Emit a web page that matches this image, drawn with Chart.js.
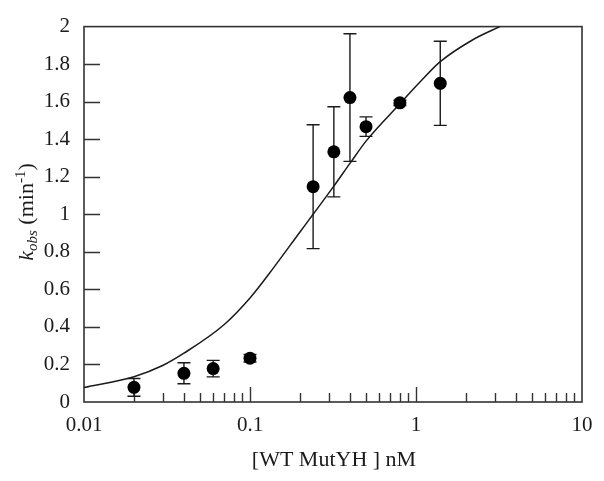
<!DOCTYPE html>
<html>
<head>
<meta charset="utf-8">
<script src="https://cdn.jsdelivr.net/npm/chart.js@4.4.1/dist/chart.umd.min.js"></script>
<style>
  html, body { margin: 0; padding: 0; background: #fff; }
  #wrap { width: 604px; height: 481px; }
</style>
</head>
<body>
<div id="wrap"><canvas id="chart"></canvas></div>
<script>
// measured rates with error bars
const concentrations = [0.02, 0.04, 0.06, 0.1, 0.24, 0.32, 0.4, 0.5, 0.8, 1.4];
const kobsValues = [0.078, 0.153, 0.178, 0.233, 1.147, 1.333, 1.622, 1.467, 1.594, 1.698];
const kobsErrors = [0.047, 0.056, 0.044, 0.02, 0.33, 0.24, 0.34, 0.052, 0.014, 0.224];

// fitted curve
const curveX = [0.01, 0.02, 0.03, 0.04, 0.07, 0.1, 0.14, 0.2, 0.24, 0.32, 0.4, 0.5, 0.8, 1.06, 1.4, 2.2, 3.2];
const curveY = [0.077, 0.135, 0.196, 0.26, 0.413, 0.554, 0.72, 0.906, 1.0, 1.15, 1.271, 1.39, 1.589, 1.706, 1.813, 1.93, 2.0];

// axis ticks
const xTickValues = [0.01, 0.02, 0.03, 0.04, 0.05, 0.06, 0.07, 0.08, 0.09,
                     0.1, 0.2, 0.3, 0.4, 0.5, 0.6, 0.7, 0.8, 0.9,
                     1, 2, 3, 4, 5, 6, 7, 8, 9, 10];
const xLabelValues = [0.01, 0.1, 1, 10];
const yTickValues = [0, 0.2, 0.4, 0.6, 0.8, 1, 1.2, 1.4, 1.6, 1.8, 2];

const serif = '"Liberation Serif", "Times New Roman", serif';
const ink = '#1a1a1a';

// frame, inward ticks, error bars and axis titles
const decorations = {
    id: 'decorations',
    beforeDatasetsDraw(chart) {
        const ctx = chart.ctx;
        const area = chart.chartArea;
        const xs = chart.scales.x;
        const ys = chart.scales.y;
        ctx.save();
        ctx.strokeStyle = '#333';
        ctx.lineWidth = 1.6;
        ctx.strokeRect(area.left, area.top, area.right - area.left, area.bottom - area.top);

        ctx.lineWidth = 1.4;
        ctx.beginPath();
        yTickValues.slice(1, -1).forEach(v => {
            const y = Math.round(ys.getPixelForValue(v)) + 0.5;
            ctx.moveTo(area.left, y);
            ctx.lineTo(area.left + 16, y);
        });
        xTickValues.slice(1, -1).forEach(v => {
            const x = Math.round(xs.getPixelForValue(v)) + 0.5;
            const len = xLabelValues.includes(v) ? 15 : 9;
            ctx.moveTo(x, area.bottom);
            ctx.lineTo(x, area.bottom - len);
        });
        ctx.stroke();

        // error bars
        ctx.strokeStyle = ink;
        ctx.lineWidth = 1.4;
        ctx.beginPath();
        concentrations.forEach((c, i) => {
            const x = xs.getPixelForValue(c);
            const yTop = ys.getPixelForValue(kobsValues[i] + kobsErrors[i]);
            const yBot = ys.getPixelForValue(kobsValues[i] - kobsErrors[i]);
            ctx.moveTo(x, yTop);
            ctx.lineTo(x, yBot);
            ctx.moveTo(x - 6.5, yTop);
            ctx.lineTo(x + 6.5, yTop);
            ctx.moveTo(x - 6.5, yBot);
            ctx.lineTo(x + 6.5, yBot);
        });
        ctx.stroke();
        ctx.restore();
    },
    afterDraw(chart) {
        const ctx = chart.ctx;
        ctx.save();
        ctx.fillStyle = ink;
        ctx.textBaseline = 'alphabetic';

        // x title
        ctx.font = '22px ' + serif;
        ctx.textAlign = 'center';
        ctx.fillText('[WT MutYH ] nM', 334, 466);

        // y title: k_obs (min^-1)
        const parts = [
            { text: 'k', font: 'italic 22px ' + serif, dy: 0 },
            { text: 'obs', font: 'italic 15px ' + serif, dy: 4 },
            { text: ' (min', font: '22px ' + serif, dy: 0 },
            { text: '-1', font: '15px ' + serif, dy: -8 },
            { text: ')', font: '22px ' + serif, dy: 0 }
        ];
        let total = 0;
        parts.forEach(p => { ctx.font = p.font; p.w = ctx.measureText(p.text).width; total += p.w; });
        ctx.translate(33, 212);
        ctx.rotate(-Math.PI / 2);
        ctx.textAlign = 'left';
        let pos = -total / 2;
        parts.forEach(p => {
            ctx.font = p.font;
            ctx.fillText(p.text, pos, p.dy);
            pos += p.w;
        });
        ctx.restore();
    }
};

window.addEventListener('load', function() {
    const ctx = document.getElementById('chart');
    new Chart(ctx, {
        type: 'scatter',
        data: {
            datasets: [{
                label: 'fit',
                data: curveX.map((x, i) => ({ x: x, y: curveY[i] })),
                showLine: true,
                borderColor: ink,
                borderWidth: 1.5,
                pointRadius: 0,
                cubicInterpolationMode: 'monotone',
                order: 2
            }, {
                label: 'kobs',
                data: concentrations.map((c, i) => ({ x: c, y: kobsValues[i] })),
                showLine: false,
                pointRadius: 6.5,
                pointBackgroundColor: '#000',
                pointBorderColor: '#000',
                pointBorderWidth: 0,
                order: 1
            }]
        },
        options: {
            responsive: true,
            maintainAspectRatio: false,
            animation: false,
            events: [],
            layout: { padding: { left: 0, right: 22, top: 18, bottom: 0 } },
            plugins: {
                legend: { display: false },
                tooltip: { enabled: false }
            },
            scales: {
                x: {
                    type: 'logarithmic',
                    min: 0.01,
                    max: 10,
                    grid: { display: false, drawTicks: false },
                    border: { display: false },
                    afterBuildTicks: function(scale) {
                        scale.ticks = xTickValues.map(v => ({ value: v }));
                    },
                    afterFit: function(scale) { scale.height = 79; },
                    ticks: {
                        autoSkip: false,
                        maxRotation: 0,
                        padding: 11,
                        color: ink,
                        font: { family: serif, size: 21 },
                        callback: function(value) {
                            return xLabelValues.includes(value) ? String(value) : '';
                        }
                    }
                },
                y: {
                    min: 0,
                    max: 2,
                    grid: { display: false, drawTicks: false },
                    border: { display: false },
                    afterBuildTicks: function(scale) {
                        scale.ticks = yTickValues.map(v => ({ value: v }));
                    },
                    afterFit: function(scale) { scale.width = 84; },
                    ticks: {
                        padding: 14,
                        color: ink,
                        font: { family: serif, size: 21 },
                        callback: function(value) {
                            return String(Math.round(value * 10) / 10);
                        }
                    }
                }
            }
        },
        plugins: [decorations]
    });
});
</script>
</body>
</html>
